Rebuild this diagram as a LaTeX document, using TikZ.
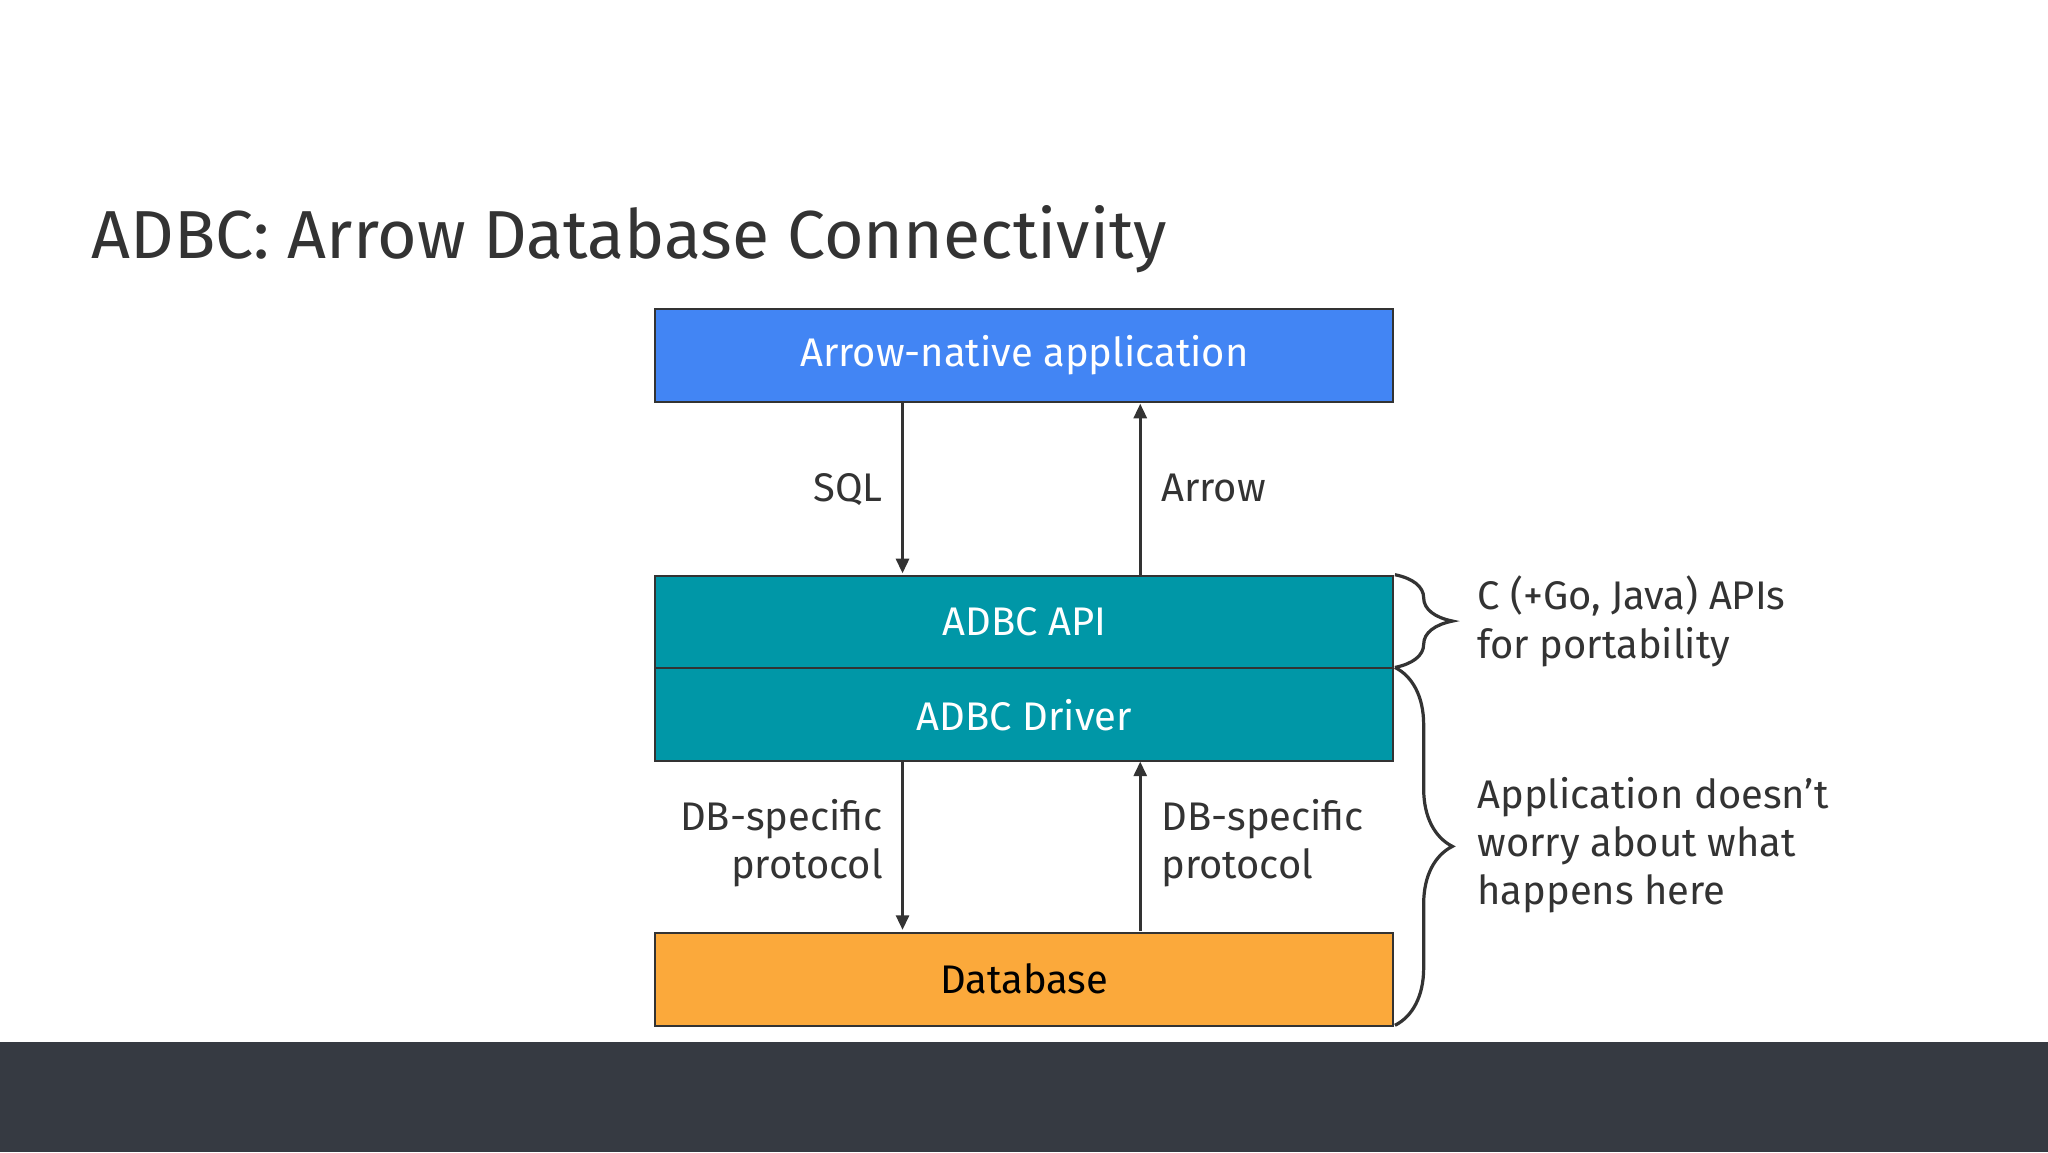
\documentclass[tikz,border=0pt]{standalone}
\usepackage{fontspec}
\setmainfont{Fira Sans}
\usetikzlibrary{decorations.pathreplacing,arrows.meta}
\definecolor{tx}{HTML}{333333}
\definecolor{blueb}{HTML}{4285F4}
\definecolor{tealb}{HTML}{0097A7}
\definecolor{orb}{HTML}{FBA93B}
\definecolor{band}{HTML}{363A42}
\begin{document}
\begin{tikzpicture}[x=0.5mm,y=-0.5mm,
  box/.style={draw=tx,line width=2pt,minimum width=282.5mm,minimum height=35.5mm,inner sep=0pt,font=\fontsize{43.5}{52.5}\selectfont},
  lbl/.style={text=tx,font=\fontsize{43.5}{52.5}\selectfont,inner sep=0pt,align=left},
  arr/.style={draw=tx,line width=3.5pt,-{Triangle[length=16pt,width=14pt]}},
  br/.style={draw=tx,line width=3.5pt,decorate,decoration={brace,amplitude=22mm,aspect=0.5}}]
\useasboundingbox (0,0) rectangle (1568,882);
\fill[white] (0,0) rectangle (1568,882);
\fill[band] (0,798) rectangle (1568,882);
\node[lbl,anchor=base west,font=\fontsize{74}{88}\selectfont] (title) at (70,198) {ADBC: Arrow Database Connectivity};
\node[box,fill=blueb,text=white,anchor=north west] (app) at (501,236) {Arrow-native application};
\node[box,fill=tealb,text=white,anchor=north west] (api) at (501,440) {ADBC API};
\node[box,fill=tealb,text=white,anchor=north west] (drv) at (501,511) {ADBC Driver};
\node[box,fill=orb,text=black,anchor=north west] (db) at (501,713.5) {Database};
\coordinate (a1) at (691,308); \coordinate (a2) at (691,439);
\coordinate (b1) at (873,440); \coordinate (b2) at (873,309);
\draw[arr] (a1) -- (a2);
\draw[arr] (b1) -- (b2);
\coordinate (c1) at (691,583); \coordinate (c2) at (691,712);
\coordinate (d1) at (873,713); \coordinate (d2) at (873,583);
\draw[arr] (c1) -- (c2);
\draw[arr] (d1) -- (d2);
\node[lbl,anchor=base east] (sql) at (676,384) {SQL};
\node[lbl,anchor=base west] (arw) at (889,384) {Arrow};
\node[lbl,anchor=north east,align=right] (p1) at (676,612) {DB-specific\\protocol};
\node[lbl,anchor=north west] (p2) at (889,612) {DB-specific\\protocol};
\draw[br] (1068,440) -- (1068,511);
\draw[br] (1068,511) -- (1068,785);
\node[lbl,anchor=north west] (t1) at (1131,441) {C (+Go, Java) APIs\\for portability};
\node[lbl,anchor=north west] (t2) at (1131,595) {Application doesn’t\\worry about what\\happens here};
\end{tikzpicture}
\end{document}
